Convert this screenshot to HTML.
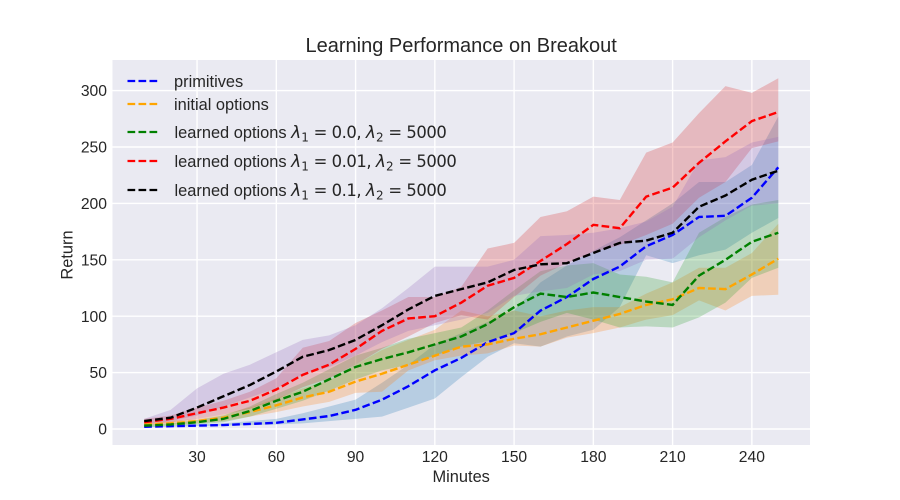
<!DOCTYPE html>
<html>
<head>
<meta charset="utf-8">
<title>Learning Performance on Breakout</title>
<style>
html,body{margin:0;padding:0;background:#fff;width:900px;height:500px;overflow:hidden}
svg{display:block}
text{font-family:"Liberation Sans",sans-serif;fill:#262626}
.math{font-family:"DejaVu Sans",sans-serif}
</style>
</head>
<body>
<svg id="chart" xmlns="http://www.w3.org/2000/svg" width="900" height="500" viewBox="0 0 900 500">
  <rect x="0" y="0" width="900" height="500" fill="#ffffff"/>
  <rect x="112.5" y="60" width="697.5" height="385" fill="#EAEAF2"/>
  <g id="grid"></g>
  <g id="bands"></g>
  <g id="lines"></g>
  <g id="xticks"></g>
  <g id="yticks"></g>
  <text x="461.2" y="52" font-size="20" text-anchor="middle">Learning Performance on Breakout</text>
  <text x="461.2" y="482" font-size="16.4" text-anchor="middle">Minutes</text>
  <text transform="translate(72.5 255) rotate(-90)" font-size="16.4" text-anchor="middle">Return</text>
  <g>
    <g>
      <line x1="127.5" y1="81" x2="158" y2="81" stroke="#0000ff" stroke-width="2.2" stroke-dasharray="7.7 3.3"/>
      <text x="174" y="87" font-size="16.4">primitives</text>
    </g>
    <g>
      <line x1="127.5" y1="104" x2="158" y2="104" stroke="#ffa500" stroke-width="2.2" stroke-dasharray="7.7 3.3"/>
      <text x="174" y="110" font-size="16.4">initial options</text>
    </g>
    <g>
      <line x1="127.5" y1="132" x2="158" y2="132" stroke="#008000" stroke-width="2.2" stroke-dasharray="7.7 3.3"/>
      <text x="174.5" y="138" font-size="16.4">learned options <tspan class="math" font-style="italic" font-size="17">λ</tspan><tspan class="math" font-size="12" dy="3.5">1</tspan><tspan class="math" font-size="16.4" dy="-3.5" letter-spacing="-0.45"> = 0.0, </tspan><tspan class="math" font-style="italic" font-size="17">λ</tspan><tspan class="math" font-size="12" dy="3.5">2</tspan><tspan class="math" font-size="16.4" dy="-3.5" letter-spacing="-0.45"> = 5000</tspan></text>
    </g>
    <g>
      <line x1="127.5" y1="161" x2="158" y2="161" stroke="#ff0000" stroke-width="2.2" stroke-dasharray="7.7 3.3"/>
      <text x="174.5" y="167" font-size="16.4">learned options <tspan class="math" font-style="italic" font-size="17">λ</tspan><tspan class="math" font-size="12" dy="3.5">1</tspan><tspan class="math" font-size="16.4" dy="-3.5" letter-spacing="-0.45"> = 0.01, </tspan><tspan class="math" font-style="italic" font-size="17">λ</tspan><tspan class="math" font-size="12" dy="3.5">2</tspan><tspan class="math" font-size="16.4" dy="-3.5" letter-spacing="-0.45"> = 5000</tspan></text>
    </g>
    <g>
      <line x1="127.5" y1="190" x2="158" y2="190" stroke="#000000" stroke-width="2.2" stroke-dasharray="7.7 3.3"/>
      <text x="174.5" y="196" font-size="16.4">learned options <tspan class="math" font-style="italic" font-size="17">λ</tspan><tspan class="math" font-size="12" dy="3.5">1</tspan><tspan class="math" font-size="16.4" dy="-3.5" letter-spacing="-0.45"> = 0.1, </tspan><tspan class="math" font-style="italic" font-size="17">λ</tspan><tspan class="math" font-size="12" dy="3.5">2</tspan><tspan class="math" font-size="16.4" dy="-3.5" letter-spacing="-0.45"> = 5000</tspan></text>
    </g>
  </g>
</svg>
<script>
const minutes = [10,20,30,40,50,60,70,80,90,100,110,120,130,140,150,160,170,180,190,200,210,220,230,240,250];
const xTickValues = [30,60,90,120,150,180,210,240];
const yTickValues = [0,50,100,150,200,250,300];

const primitivesMean  = [2,2.5,3,3.5,4.5,5.5,8.5,11.5,17,26,38,52,63,77,85,105,117,133,144,162,172,188,189,205,232];
const primitivesLow   = [1.5,2,2.5,3,3.5,4,5,7,9,11,19,27,46,64,76,73,82,88,108,154,147,154,159,174,187];
const primitivesHigh  = [3,3,4,5,7,9,14,20,26,41,57,75,85,95,105,130,145,158,170,185,200,219,219,234,277];

const initialMean = [4,5,7,10,15,21,28,33,42,49,57,65,73,75,80,84,90,96,102,110,115,125,124,137,151];
const initialLow  = [3,4,5,7,11,15,20,24,32,33,52,61,65,67,74,73,81,85,90,97,101,114,105,118,119];
const initialHigh = [5,7,9,13,19,27,36,43,57,70,79,88,105,100,105,100,105,108,108,120,130,143,143,156,182];

const learned0Mean = [3,4,6,9,16,25,33,44,55,62,68,75,82,93,108,120,117,121,117,113,110,136,150,166,174];
const learned0Low  = [2,3,4,6,11,18,25,34,44,52,57,65,73,78,85,95,103,97,90,91,90,99,112,134,143];
const learned0High = [4,5,8,12,20,31,41,53,65,72,80,85,90,105,123,140,145,147,137,135,130,174,188,199,203];

const learned01Mean = [6,9,14,19,25,35,48,57,71,87,98,100,112,127,134,149,164,181,178,206,214,236,255,273,281];
const learned01Low  = [4,6,9,13,18,26,37,45,57,71,82,94,101,97,117,136,147,157,163,172,182,205,219,249,255];
const learned01High = [9,12,19,25,33,45,72,78,94,105,117,117,126,160,165,188,193,206,203,245,254,280,304,298,311];

const learned1Mean = [7,10,19,29,39,51,64,70,79,92,106,118,124,130,141,146,147,156,165,167,174,197,207,221,229];
const learned1Low  = [5,7,12,20,28,36,48,55,65,77,87,92,97,103,118,122,125,137,140,150,151,170,185,198,200];
const learned1High = [9,17,36,49,57,68,79,83,92,107,125,144,144,144,150,171,172,174,178,184,197,238,241,254,259];

const NS = 'http://www.w3.org/2000/svg';
function xScale(v){ return 112.5 + (v + 2) * 697.5 / 264; }
function yScale(v){ return 429 - v * 1.128; }

function seriesPoints(values){
  return values.map(function(v,i){ return xScale(minutes[i]).toFixed(2) + ',' + yScale(v).toFixed(2); });
}

function addGridLine(x1,y1,x2,y2,kind){
  const l = document.createElementNS(NS,'line');
  l.setAttribute('x1',x1); l.setAttribute('y1',y1); l.setAttribute('x2',x2); l.setAttribute('y2',y2);
  l.setAttribute('stroke','#ffffff'); l.setAttribute('stroke-width','1.4');
  
  
  document.getElementById('grid').appendChild(l);
}

xTickValues.forEach(function(v){
  addGridLine(xScale(v),60,xScale(v),445,'x-grid-line');
  const t = document.createElementNS(NS,'text');
  t.setAttribute('x',xScale(v)); t.setAttribute('y',462);
  t.setAttribute('font-size','15.7'); t.setAttribute('text-anchor','middle');
  t.textContent = v;
  
  
  document.getElementById('xticks').appendChild(t);
});
yTickValues.forEach(function(v){
  addGridLine(112.5,yScale(v),810,yScale(v),'y-grid-line');
  const t = document.createElementNS(NS,'text');
  t.setAttribute('x',107); t.setAttribute('y',yScale(v)+5.6);
  t.setAttribute('font-size','15.7'); t.setAttribute('text-anchor','end');
  t.textContent = v;
  
  
  document.getElementById('yticks').appendChild(t);
});

function addBand(low,high,color,name){
  const p = document.createElementNS(NS,'polygon');
  p.setAttribute('points', seriesPoints(high).concat(seriesPoints(low).reverse()).join(' '));
  p.setAttribute('fill',color); p.setAttribute('fill-opacity','0.25');
  
  
  document.getElementById('bands').appendChild(p);
}
function addLine(values,color,name){
  const p = document.createElementNS(NS,'polyline');
  p.setAttribute('points', seriesPoints(values).join(' '));
  p.setAttribute('fill','none'); p.setAttribute('stroke',color);
  p.setAttribute('stroke-width','2.4'); p.setAttribute('stroke-dasharray','7.7 3.3');
  
  
  document.getElementById('lines').appendChild(p);
}

addBand(primitivesLow,primitivesHigh,'#1f77b4','primitives-band');
addBand(initialLow,initialHigh,'#ff7f0e','initial-options-band');
addBand(learned0Low,learned0High,'#2ca02c','learned-0-0-band');
addBand(learned01Low,learned01High,'#d62728','learned-0-01-band');
addBand(learned1Low,learned1High,'#9467bd','learned-0-1-band');

addLine(primitivesMean,'#0000ff','primitives-line');
addLine(initialMean,'#ffa500','initial-options-line');
addLine(learned0Mean,'#008000','learned-0-0-line');
addLine(learned01Mean,'#ff0000','learned-0-01-line');
addLine(learned1Mean,'#000000','learned-0-1-line');
</script>
</body>
</html>
